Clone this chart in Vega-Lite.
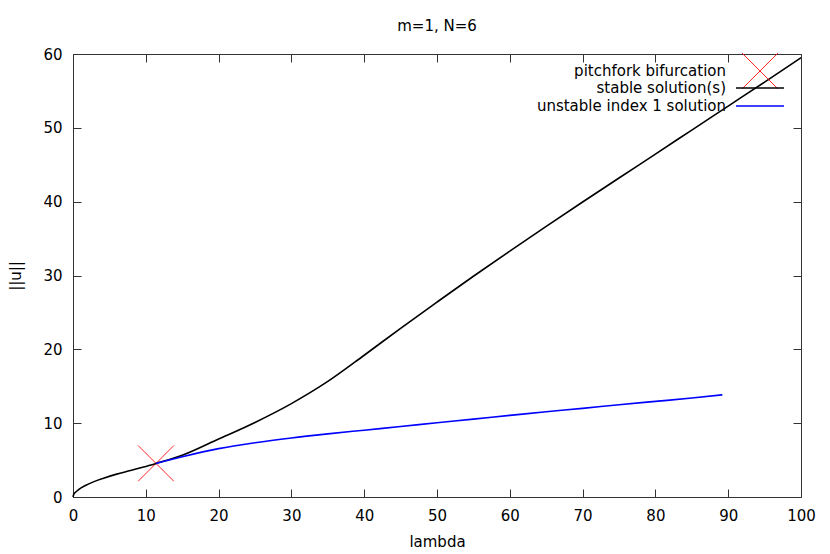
{
  "$schema": "https://vega.github.io/schema/vega-lite/v6.json",
  "width": 728,
  "height": 443,
  "autosize": {"type": "none"},
  "padding": {"left": 73, "top": 54, "right": 29, "bottom": 57},
  "title": {"text": "m=1, N=6", "fontSize": 15, "font": "DejaVu Sans", "fontWeight": "normal", "color": "#000000", "baseline": "alphabetic", "offset": 0},
  "datasets": {
    "curves": [
      {"series": "stable solution(s)", "lambda": 0, "norm": 0},
      {"series": "stable solution(s)", "lambda": 0.1, "norm": 0.35},
      {"series": "stable solution(s)", "lambda": 0.3, "norm": 0.6},
      {"series": "stable solution(s)", "lambda": 0.77, "norm": 1.0},
      {"series": "stable solution(s)", "lambda": 1.7, "norm": 1.55},
      {"series": "stable solution(s)", "lambda": 2.8, "norm": 2.05},
      {"series": "stable solution(s)", "lambda": 4.2, "norm": 2.55},
      {"series": "stable solution(s)", "lambda": 6.0, "norm": 3.1},
      {"series": "stable solution(s)", "lambda": 7.9, "norm": 3.58},
      {"series": "stable solution(s)", "lambda": 9.7, "norm": 4.06},
      {"series": "stable solution(s)", "lambda": 11.4, "norm": 4.55},
      {"series": "stable solution(s)", "lambda": 15, "norm": 5.65},
      {"series": "stable solution(s)", "lambda": 20, "norm": 7.85},
      {"series": "stable solution(s)", "lambda": 25, "norm": 10.1},
      {"series": "stable solution(s)", "lambda": 30, "norm": 12.65},
      {"series": "stable solution(s)", "lambda": 35, "norm": 15.65},
      {"series": "stable solution(s)", "lambda": 40, "norm": 19.2},
      {"series": "stable solution(s)", "lambda": 45, "norm": 22.85},
      {"series": "stable solution(s)", "lambda": 50, "norm": 26.4},
      {"series": "stable solution(s)", "lambda": 55, "norm": 29.9},
      {"series": "stable solution(s)", "lambda": 60, "norm": 33.3},
      {"series": "stable solution(s)", "lambda": 65, "norm": 36.65},
      {"series": "stable solution(s)", "lambda": 70, "norm": 39.95},
      {"series": "stable solution(s)", "lambda": 75, "norm": 43.2},
      {"series": "stable solution(s)", "lambda": 80, "norm": 46.45},
      {"series": "stable solution(s)", "lambda": 85, "norm": 49.7},
      {"series": "stable solution(s)", "lambda": 90, "norm": 52.95},
      {"series": "stable solution(s)", "lambda": 95, "norm": 56.2},
      {"series": "stable solution(s)", "lambda": 100, "norm": 59.5},
      {"series": "unstable index 1 solution", "lambda": 11.4, "norm": 4.55},
      {"series": "unstable index 1 solution", "lambda": 15, "norm": 5.45},
      {"series": "unstable index 1 solution", "lambda": 20, "norm": 6.55},
      {"series": "unstable index 1 solution", "lambda": 25, "norm": 7.35},
      {"series": "unstable index 1 solution", "lambda": 30, "norm": 8.0},
      {"series": "unstable index 1 solution", "lambda": 35, "norm": 8.55},
      {"series": "unstable index 1 solution", "lambda": 40, "norm": 9.05},
      {"series": "unstable index 1 solution", "lambda": 45, "norm": 9.55},
      {"series": "unstable index 1 solution", "lambda": 50, "norm": 10.05},
      {"series": "unstable index 1 solution", "lambda": 55, "norm": 10.55},
      {"series": "unstable index 1 solution", "lambda": 60, "norm": 11.05},
      {"series": "unstable index 1 solution", "lambda": 65, "norm": 11.55},
      {"series": "unstable index 1 solution", "lambda": 70, "norm": 12.0},
      {"series": "unstable index 1 solution", "lambda": 75, "norm": 12.5},
      {"series": "unstable index 1 solution", "lambda": 80, "norm": 12.95},
      {"series": "unstable index 1 solution", "lambda": 85, "norm": 13.4},
      {"series": "unstable index 1 solution", "lambda": 89.2, "norm": 13.84}
    ],
    "bif": [
      {"label": "pitchfork bifurcation", "lambda": 11.4, "norm": 4.55}
    ]
  },
  "layer": [
    {
      "data": {"name": "bif"},
      "mark": {"type": "point", "filled": false, "size": 2400, "strokeWidth": 1, "color": "#ff0000", "opacity": 0.85},
      "encoding": {
        "x": {"field": "lambda", "type": "quantitative", "scale": {"domain": [0, 100], "nice": false, "zero": false},
              "axis": {"orient": "top", "labels": false, "title": null, "tickSize": -8, "values": [0,10,20,30,40,50,60,70,80,90,100]}},
        "y": {"field": "norm", "type": "quantitative", "scale": {"domain": [0, 60], "nice": false, "zero": false},
              "axis": {"orient": "right", "labels": false, "title": null, "tickSize": -8, "values": [0,10,20,30,40,50,60]}},
        "shape": {"field": "label", "type": "nominal",
                  "scale": {"domain": ["pitchfork bifurcation"], "range": ["M-0.73,-0.73L0.73,0.73M-0.73,0.73L0.73,-0.73"]},
                  "legend": {"orient": "none", "legendX": 662, "legendY": -8, "title": null, "symbolSize": 2400,
                             "symbolStrokeColor": "#ff0000", "symbolFillColor": "transparent", "symbolStrokeWidth": 1, "symbolOpacity": 0.85,
                             "labelAlign": "right", "labelOffset": -59, "labelFontSize": 15, "labelFont": "DejaVu Sans", "labelColor": "#000000", "labelLimit": 300}}
      }
    },
    {
      "data": {"name": "curves"},
      "mark": {"type": "line", "interpolate": "monotone", "strokeWidth": 1.6},
      "encoding": {
        "x": {"field": "lambda", "type": "quantitative", "scale": {"domain": [0, 100], "nice": false, "zero": false},
              "axis": {"orient": "bottom", "title": "lambda", "tickSize": -8, "labelPadding": 19, "values": [0,10,20,30,40,50,60,70,80,90,100],
                       "titleY": 49, "titleBaseline": "alphabetic"}},
        "y": {"field": "norm", "type": "quantitative", "scale": {"domain": [0, 60], "nice": false, "zero": false},
              "axis": {"orient": "left", "title": "||u||", "tickSize": -8, "labelPadding": 19, "values": [0,10,20,30,40,50,60],
                       "titleX": -53, "titleBaseline": "alphabetic"}},
        "color": {"field": "series", "type": "nominal",
                  "scale": {"domain": ["stable solution(s)", "unstable index 1 solution"], "range": ["#000000", "#0000ff"]},
                  "legend": {"orient": "none", "legendX": 662, "legendY": 25, "title": null, "symbolType": "M-3,0L3,0", "symbolSize": 256,
                             "symbolOffset": 16, "symbolStrokeWidth": 1.6, "symbolFillColor": "transparent",
                             "labelAlign": "right", "labelOffset": -43, "labelFontSize": 15, "labelFont": "DejaVu Sans",
                             "labelColor": "#000000", "labelLimit": 300, "rowPadding": 1}}
      }
    }
  ],
  "resolve": {"axis": {"x": "independent", "y": "independent"}, "legend": {"color": "independent", "shape": "independent"}},
  "config": {
    "font": "DejaVu Sans",
    "view": {"stroke": null},
    "axis": {"domainColor": "#333333", "tickColor": "#333333", "labelFontSize": 15, "labelFont": "DejaVu Sans", "labelColor": "#000000",
             "titleFontSize": 15, "titleFont": "DejaVu Sans", "titleFontWeight": "normal", "titleColor": "#000000", "grid": false, "labelFlush": false}
  }
}
